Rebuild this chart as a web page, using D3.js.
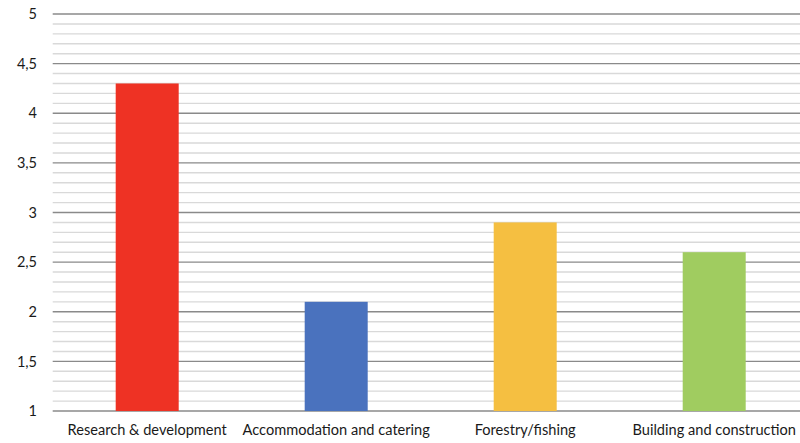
<!DOCTYPE html>
<html>
<head>
<meta charset="utf-8">
<script src="https://cdn.jsdelivr.net/npm/d3@7"></script>
<style>
  html, body { margin: 0; padding: 0; background: #fff; }
  svg { display: block; }
</style>
</head>
<body>
<svg id="chart" width="800" height="443"></svg>
<script>
// Sectors and their scores
const categories = ["Research & development", "Accommodation and catering", "Forestry/fishing", "Building and construction"];
const values = [4.3, 2.1, 2.9, 2.6];
const barColors = ["#EE3224", "#4A72BE", "#F5BF41", "#A0CC60"];
const majorTicks = [1, 1.5, 2, 2.5, 3, 3.5, 4, 4.5, 5];
const minorTicks = d3.range(10, 51).map(d => d / 10);

const svg = d3.select("#chart");
const plotLeft = 52.7, plotRight = 808.7, plotTop = 14, plotBottom = 411;

const y = d3.scaleLinear().domain([1, 5]).range([plotBottom, plotTop]);
const x = d3.scaleBand().domain(categories).range([plotLeft, plotRight])
  .paddingInner(2 / 3).paddingOuter(1 / 3);

const fmt = d => String(d).replace(".", ",");

// minor gridlines
svg.append("g").selectAll("line")
  .data(minorTicks.filter(t => !majorTicks.some(m => Math.abs(m - t) < 1e-9)))
  .join("line")
  .attr("x1", plotLeft).attr("x2", 800)
  .attr("y1", d => y(d)).attr("y2", d => y(d))
  .attr("stroke", "#d9d9d9").attr("stroke-width", 1.4);

// major gridlines
svg.append("g").selectAll("line")
  .data(majorTicks)
  .join("line")
  .attr("x1", plotLeft).attr("x2", 800)
  .attr("y1", d => y(d)).attr("y2", d => y(d))
  .attr("stroke", "#8a8a8a").attr("stroke-width", 1.4);

// y axis labels
const yAxis = d3.axisLeft(y).tickValues(majorTicks).tickFormat(fmt).tickSize(0).tickPadding(0);
const ya = svg.append("g").attr("transform", "translate(37,0)").call(yAxis);
ya.select(".domain").remove();
ya.selectAll("text")
  .attr("font-family", "Lato, 'Open Sans', sans-serif")
  .attr("font-size", 14.5).attr("fill", "#1a1a1a");

// bars
svg.append("g").selectAll("rect")
  .data(values)
  .join("rect")
  .attr("x", (d, i) => x(categories[i]))
  .attr("width", x.bandwidth())
  .attr("y", d => y(d))
  .attr("height", d => y(1) - y(d))
  .attr("fill", (d, i) => barColors[i]);

// category labels
const xAxis = d3.axisBottom(x).tickSize(0).tickPadding(0);
const xa = svg.append("g").attr("transform", `translate(0,${plotBottom + 14})`).call(xAxis);
xa.select(".domain").remove();
xa.selectAll("text")
  .attr("font-family", "Lato, 'Open Sans', sans-serif")
  .attr("font-size", 14.6).attr("fill", "#1a1a1a");
</script>
</body>
</html>
